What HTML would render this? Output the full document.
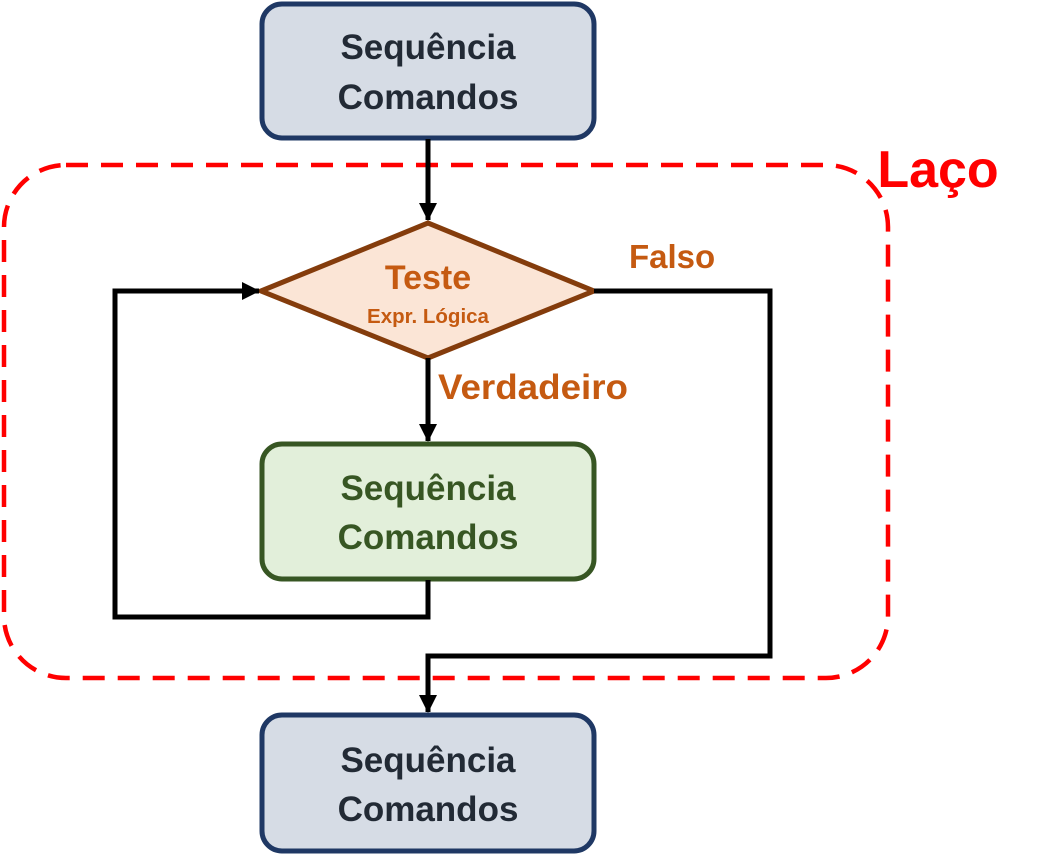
<!DOCTYPE html>
<html><head><meta charset="utf-8"><style>
html,body{margin:0;padding:0;background:#fff;}
svg text{font-family:"Liberation Sans",sans-serif;font-weight:bold;}
</style></head><body>
<svg width="1055" height="859" viewBox="0 0 1055 859" xmlns="http://www.w3.org/2000/svg">
<defs>
<marker id="b" markerWidth="18" markerHeight="18" refX="17" refY="9" orient="auto" markerUnits="userSpaceOnUse" viewBox="0 0 18 18">
<path d="M0,0 L18,9 L0,18 z" fill="#000"/></marker>
</defs>
<rect x="4" y="165" width="884" height="513" rx="62" fill="none" stroke="#f00" stroke-width="4.5" stroke-dasharray="22,13"/>
<text x="938" y="187" font-size="52" fill="#f00" text-anchor="middle">Laço</text>
<rect x="262" y="4" width="332" height="134" rx="20" fill="#d6dce5" stroke="#1f3864" stroke-width="5"/>
<text x="428" y="59" font-size="35" fill="#222a35" text-anchor="middle">Sequência</text>
<text x="428" y="109" font-size="35" fill="#222a35" text-anchor="middle">Comandos</text>
<line x1="428" y1="139" x2="428" y2="220" stroke="#000" stroke-width="5" marker-end="url(#b)"/>
<polygon points="261,291 428,223 594,291 428,358" fill="#fbe5d6" stroke="#843c0c" stroke-width="5"/>
<text x="428" y="289" font-size="34" fill="#c55a11" text-anchor="middle">Teste</text>
<text x="428" y="323" font-size="20.5" fill="#c55a11" text-anchor="middle">Expr. Lógica</text>
<line x1="428" y1="358" x2="428" y2="441" stroke="#000" stroke-width="5" marker-end="url(#b)"/>
<text x="438" y="399" font-size="35" fill="#c55a11" textLength="190" lengthAdjust="spacingAndGlyphs">Verdadeiro</text>
<text x="629" y="268" font-size="33" fill="#c55a11">Falso</text>
<rect x="262" y="444" width="332" height="135" rx="20" fill="#e2efda" stroke="#375623" stroke-width="5"/>
<text x="428" y="500" font-size="35" fill="#375623" text-anchor="middle">Sequência</text>
<text x="428" y="549" font-size="35" fill="#375623" text-anchor="middle">Comandos</text>
<polyline points="428,580 428,617 115,617 115,291 259,291" fill="none" stroke="#000" stroke-width="5" marker-end="url(#b)"/>
<polyline points="594,291 770,291 770,656 428,656 428,712" fill="none" stroke="#000" stroke-width="5" marker-end="url(#b)"/>
<rect x="262" y="715" width="332" height="136" rx="20" fill="#d6dce5" stroke="#1f3864" stroke-width="5"/>
<text x="428" y="772" font-size="35" fill="#222a35" text-anchor="middle">Sequência</text>
<text x="428" y="821" font-size="35" fill="#222a35" text-anchor="middle">Comandos</text>
</svg>
</body></html>
